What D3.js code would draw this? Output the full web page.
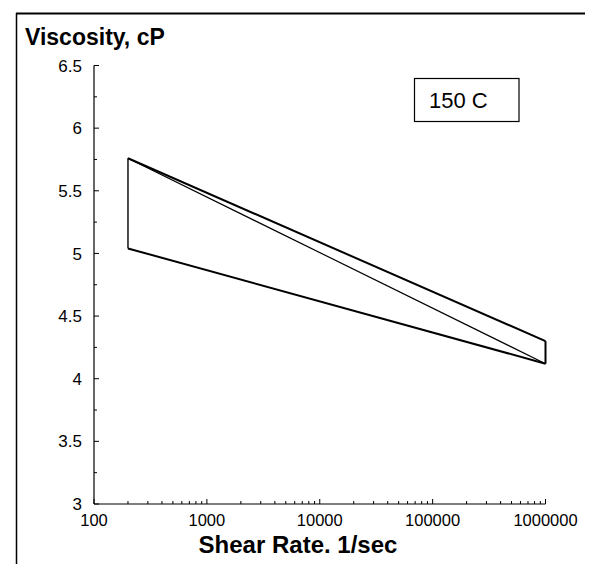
<!DOCTYPE html>
<html>
<head>
<meta charset="utf-8">
<script src="https://cdn.jsdelivr.net/npm/d3@7"></script>
<style>
  body { margin: 0; background: #fff; }
  svg { display: block; font-family: Arial, "Liberation Sans", sans-serif; }
</style>
</head>
<body>
<div id="chart"></div>
<script>
var shearRates = [200, 1000000];
var upperVisc = [5.76, 4.30];
var lowerVisc = [5.04, 4.12];
var diagVisc = [5.76, 4.12];
var xTickLabels = ["100", "1000", "10000", "100000", "1000000"];
var yTickValues = [3, 3.5, 4, 4.5, 5, 5.5, 6, 6.5];
var legendText = "150 C";

var width = 595, height = 564;

var svg = d3.select("#chart").append("svg")
  .attr("width", width)
  .attr("height", height);

// frame: top and left edges only
svg.append("line").attr("x1", 16).attr("x2", 585).attr("y1", 13.5).attr("y2", 13.5)
  .attr("stroke", "#000").attr("stroke-width", 2.2);
svg.append("line").attr("x1", 16.5).attr("x2", 16.5).attr("y1", 13).attr("y2", height)
  .attr("stroke", "#000").attr("stroke-width", 1.5);

var x = d3.scaleLog().domain([100, 1000000]).range([94, 545.5]);
var y = d3.scaleLinear().domain([3, 6.5]).range([504, 65.5]);

// y axis
svg.append("line").attr("x1", x(100)).attr("x2", x(100)).attr("y1", y(3)).attr("y2", y(6.5))
  .attr("stroke", "#000").attr("stroke-width", 1.2);
var yMinor = d3.range(3.25, 6.5, 0.5);
svg.selectAll(".ytick").data(yTickValues).enter().append("line")
  .attr("x1", x(100)).attr("x2", x(100) + 5)
  .attr("y1", function(d) { return y(d); }).attr("y2", function(d) { return y(d); })
  .attr("stroke", "#000").attr("stroke-width", 1);
svg.selectAll(".yminor").data(yMinor).enter().append("line")
  .attr("x1", x(100)).attr("x2", x(100) + 3)
  .attr("y1", function(d) { return y(d); }).attr("y2", function(d) { return y(d); })
  .attr("stroke", "#000").attr("stroke-width", 1);
svg.selectAll(".ylab").data(yTickValues).enter().append("text")
  .attr("x", 82).attr("y", function(d) { return y(d); })
  .attr("dy", "0.36em")
  .attr("text-anchor", "end")
  .style("font-size", "17px")
  .text(function(d) { return d; });

// x axis
svg.append("line").attr("x1", x(100)).attr("x2", x(1000000)).attr("y1", y(3)).attr("y2", y(3))
  .attr("stroke", "#000").attr("stroke-width", 1.2);
var xMajor = xTickLabels.map(Number);
var xMinor = [];
for (var dec = 100; dec < 1000000; dec *= 10) {
  for (var k = 2; k <= 9; k++) xMinor.push(dec * k);
}
svg.selectAll(".xminor").data(xMinor).enter().append("line")
  .attr("x1", function(d) { return x(d); }).attr("x2", function(d) { return x(d); })
  .attr("y1", y(3)).attr("y2", y(3) - 3)
  .attr("stroke", "#000").attr("stroke-width", 1);
svg.selectAll(".xmajor").data(xMajor).enter().append("line")
  .attr("x1", function(d) { return x(d); }).attr("x2", function(d) { return x(d); })
  .attr("y1", y(3)).attr("y2", y(3) - 5)
  .attr("stroke", "#000").attr("stroke-width", 1);
svg.selectAll(".xlab").data(xTickLabels).enter().append("text")
  .attr("x", function(d) { return x(+d); }).attr("y", 526)
  .attr("text-anchor", "middle")
  .style("font-size", "16.5px")
  .text(function(d) { return d; });

// axis titles
svg.append("text").attr("x", 25).attr("y", 45)
  .style("font-size", "23px").style("font-weight", "bold")
  .text("Viscosity, cP");
svg.append("text").attr("x", 298).attr("y", 553)
  .attr("text-anchor", "middle")
  .style("font-size", "24px").style("font-weight", "bold")
  .text("Shear Rate. 1/sec");

// data lines
var line = d3.line()
  .x(function(d) { return x(d[0]); })
  .y(function(d) { return y(d[1]); });

function pts(vals) { return shearRates.map(function(s, i) { return [s, vals[i]]; }); }

svg.append("path").datum(pts(diagVisc)).attr("d", line)
  .attr("fill", "none").attr("stroke", "#000").attr("stroke-width", 1.2);
svg.append("path").datum(pts(upperVisc)).attr("d", line)
  .attr("fill", "none").attr("stroke", "#000").attr("stroke-width", 2);
svg.append("path").datum(pts(lowerVisc)).attr("d", line)
  .attr("fill", "none").attr("stroke", "#000").attr("stroke-width", 2);
// vertical ends
svg.append("path").datum([[shearRates[0], upperVisc[0]], [shearRates[0], lowerVisc[0]]]).attr("d", line)
  .attr("fill", "none").attr("stroke", "#000").attr("stroke-width", 1.4);
svg.append("path").datum([[shearRates[1], upperVisc[1]], [shearRates[1], lowerVisc[1]]]).attr("d", line)
  .attr("fill", "none").attr("stroke", "#000").attr("stroke-width", 2);

// legend box
svg.append("rect").attr("x", 414.5).attr("y", 78.5).attr("width", 104.5).attr("height", 43)
  .attr("fill", "#fff").attr("stroke", "#000").attr("stroke-width", 1.2);
svg.append("text").attr("x", 429).attr("y", 108)
  .style("font-size", "22px")
  .text(legendText);
</script>
</body>
</html>
